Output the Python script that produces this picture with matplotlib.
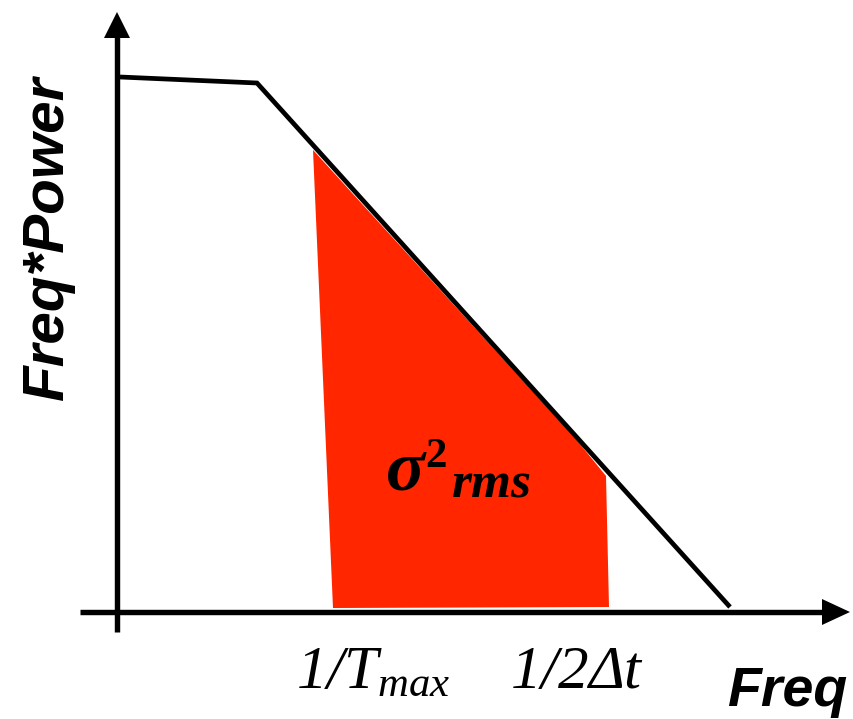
"""
Schematic: Freq*Power spectrum with the band 1/T_max .. 1/2Δt shaded (σ²_rms).
Drawn in pixel-like units so the sketch lines up with the reference figure.
"""

import matplotlib
matplotlib.use('Agg')
import matplotlib.pyplot as plt
from matplotlib.patches import Polygon

plt.rcParams['mathtext.fontset'] = 'custom'
plt.rcParams['mathtext.rm'] = 'Liberation Serif:italic'
plt.rcParams['mathtext.it'] = 'Liberation Serif:italic'

# ── schematic data (x = freq, y = freq*power, screen-style units) ──────
curve_x = [120, 257, 730]
curve_y = [77, 83, 607]

band_x = [313, 575, 606, 609, 333]
band_y = [150, 438, 476, 607, 608]

x_axis = (80, 612, 850)     # start x, y, arrow tip x
y_axis = (117, 632, 12)     # x, start y, arrow tip y

tick_labels = [r'$1/T_{max}$', r'$1/2\Delta t$']
tick_pos = [(296, 688), (510, 688)]

RED = '#ff2600'
LW = 3.4

fig = plt.figure(figsize=(8.54, 7.19), dpi=100)
ax = fig.add_axes([0, 0, 1, 1])
ax.set_xlim(0, 854)
ax.set_ylim(719, 0)
ax.axis('off')

# shaded band
ax.add_patch(Polygon(list(zip(band_x, band_y)), closed=True,
                     facecolor=RED, edgecolor='none', zorder=1))

# spectrum
ax.plot(curve_x, curve_y, color='black', linewidth=LW,
        solid_joinstyle='miter', solid_capstyle='butt', zorder=3)

# axes with arrow heads
x0, yx, xtip = x_axis
ax.plot([x0, xtip - 26], [yx, yx], color='black', linewidth=LW + 0.5,
        solid_capstyle='butt', zorder=4)
ax.add_patch(Polygon([(xtip, yx), (xtip - 28, yx - 13), (xtip - 28, yx + 13)],
                     closed=True, facecolor='black', edgecolor='none', zorder=4))

xy, y0, ytip = y_axis
ax.plot([xy, xy], [y0, ytip + 24], color='black', linewidth=LW + 0.5,
        solid_capstyle='butt', zorder=4)
ax.add_patch(Polygon([(xy, ytip), (xy - 13, ytip + 26), (xy + 13, ytip + 26)],
                     closed=True, facecolor='black', edgecolor='none', zorder=4))

# axis titles
ax.text(48, 238, 'Freq*Power', rotation=90, ha='center', va='center',
        fontsize=42, fontweight='bold', fontstyle='italic',
        family='Liberation Sans')
ax.text(727, 706, 'Freq', ha='left', va='baseline',
        fontsize=40, fontweight='bold', fontstyle='italic',
        family='Liberation Sans')

# band edges
for lbl, (tx, ty) in zip(tick_labels, tick_pos):
    ax.text(tx, ty, lbl, ha='left', va='baseline', fontsize=44)

# sigma^2_rms label
serif_bi = dict(family='Liberation Serif', fontweight='bold', fontstyle='italic')
ax.text(386, 490, 'σ', ha='left', va='baseline', fontsize=52, zorder=5, **serif_bi)
ax.text(425, 467, '2', ha='left', va='baseline', fontsize=31, zorder=5,
        family='Liberation Serif', fontweight='bold')
ax.text(452, 497, 'rms', ha='left', va='baseline', fontsize=37, zorder=5, **serif_bi)

fig.savefig('out.png', dpi=100)
plt.close(fig)
